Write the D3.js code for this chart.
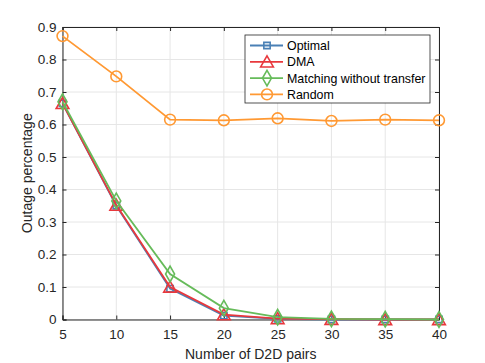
<!DOCTYPE html>
<head>
  <meta charset="utf-8">
  <script src="https://d3js.org/d3.v7.min.js"></script>
  <style>
    body { margin:0; background:#fff; }
    svg { font-family: "Liberation Sans", Arial, sans-serif; }
  </style>
</head>
<body>
<svg width="485" height="363"></svg>
<script>
  var pairs    = [5, 10, 15, 20, 25, 30, 35, 40];
  var optimal  = [0.665, 0.350, 0.095, 0.012, 0.002, 0.000, 0.000, 0.000];
  var dma      = [0.665, 0.352, 0.100, 0.015, 0.003, 0.001, 0.000, 0.000];
  var matching = [0.670, 0.365, 0.140, 0.035, 0.007, 0.002, 0.001, 0.000];
  var random   = [0.872, 0.748, 0.615, 0.613, 0.619, 0.611, 0.615, 0.613];
  var xTicks = [5, 10, 15, 20, 25, 30, 35, 40];
  var yTicks = [0, 0.1, 0.2, 0.3, 0.4, 0.5, 0.6, 0.7, 0.8, 0.9];

  var series = [
    {name: "Optimal", values: optimal, color: "#4a80b5", marker: "square"},
    {name: "DMA", values: dma, color: "#e8383d", marker: "triangle"},
    {name: "Matching without transfer", values: matching, color: "#66bb5a", marker: "diamond"},
    {name: "Random", values: random, color: "#ff9933", marker: "circle"}
  ];

  var svg = d3.select("svg");
  var pl = 62.5, pr = 439, pt = 27, pb = 319.5;

  var x = d3.scaleLinear().domain([5, 40]).range([pl, pr]);
  var y = d3.scaleLinear().domain([0, 0.9]).range([pb, pt]);

  // grid
  svg.append("g").selectAll("line").data(xTicks).enter().append("line")
    .attr("x1", d => x(d)).attr("x2", d => x(d))
    .attr("y1", pt).attr("y2", pb)
    .attr("stroke", "#e6e6e6").attr("stroke-width", 1);
  svg.append("g").selectAll("line").data(yTicks).enter().append("line")
    .attr("x1", pl).attr("x2", pr)
    .attr("y1", d => y(d)).attr("y2", d => y(d))
    .attr("stroke", "#e6e6e6").attr("stroke-width", 1);

  // axes box
  var axisColor = "#262626";
  svg.append("g").attr("transform", "translate(0," + pb + ")")
    .call(d3.axisBottom(x).tickValues(xTicks).tickSize(-4).tickPadding(10).tickFormat(d3.format("d")));
  svg.append("g").attr("transform", "translate(" + pl + ",0)")
    .call(d3.axisLeft(y).tickValues(yTicks).tickSize(-4).tickPadding(6).tickFormat(d => d === 0 ? "0" : d3.format(".1f")(d)));
  svg.append("g").attr("transform", "translate(0," + pt + ")")
    .call(d3.axisTop(x).tickValues(xTicks).tickSize(-4).tickFormat(""));
  svg.append("g").attr("transform", "translate(" + pr + ",0)")
    .call(d3.axisRight(y).tickValues(yTicks).tickSize(-4).tickFormat(""));
  svg.selectAll(".domain").attr("stroke", axisColor).attr("stroke-width", 1);
  svg.selectAll(".tick line").attr("stroke", axisColor);
  svg.selectAll(".tick text").attr("fill", axisColor).style("font-size", "13.5px")
    .style("font-family", "Liberation Sans, Arial, sans-serif");

  var sym = {
    square: d3.symbol().type(d3.symbolSquare).size(40),
    triangle: d3.symbol().type(d3.symbolTriangle).size(70),
    diamond: d3.symbol().type(d3.symbolDiamond).size(70),
    circle: d3.symbol().type(d3.symbolCircle).size(92)
  };

  var line = d3.line().x((d, i) => x(pairs[i])).y(d => y(d));

  series.forEach(function(s) {
    var g = svg.append("g");
    g.append("path").datum(s.values)
      .attr("d", line).attr("fill", "none")
      .attr("stroke", s.color).attr("stroke-width", 1.8);
    g.selectAll("path.m").data(s.values).enter().append("path")
      .attr("class", "m")
      .attr("transform", (d, i) => "translate(" + x(pairs[i]) + "," + (y(d) + (s.marker === "triangle" ? 1.5 : 0)) + ")")
      .attr("d", sym[s.marker]())
      .attr("fill", "none").attr("stroke", s.color).attr("stroke-width", 1.6);
  });

  // labels
  svg.append("text").attr("x", (pl + pr) / 2).attr("y", 359)
    .attr("text-anchor", "middle").attr("fill", axisColor)
    .style("font-size", "14px").text("Number of D2D pairs");
  svg.append("text").attr("transform", "translate(32," + ((pt + pb) / 2) + ") rotate(-90)")
    .attr("text-anchor", "middle").attr("fill", axisColor)
    .style("font-size", "14px").text("Outage percentage");

  // legend
  var lg = svg.append("g").attr("transform", "translate(245,35)");
  lg.append("rect").attr("width", 185).attr("height", 68)
    .attr("fill", "#fff").attr("stroke", axisColor).attr("stroke-width", 0.8);
  series.forEach(function(s, i) {
    var cy = 10.5 + i * 16.3;
    lg.append("line").attr("x1", 5).attr("x2", 38).attr("y1", cy).attr("y2", cy)
      .attr("stroke", s.color).attr("stroke-width", 1.8);
    lg.append("path").attr("transform", "translate(22," + (cy + (s.marker === "triangle" ? 1.5 : 0)) + ")")
      .attr("d", sym[s.marker]()).attr("fill", "none")
      .attr("stroke", s.color).attr("stroke-width", 1.6);
    lg.append("text").attr("x", 42).attr("y", cy + 4.5)
      .attr("fill", "#000").style("font-size", "12.4px").text(s.name);
  });
</script>
</body>
